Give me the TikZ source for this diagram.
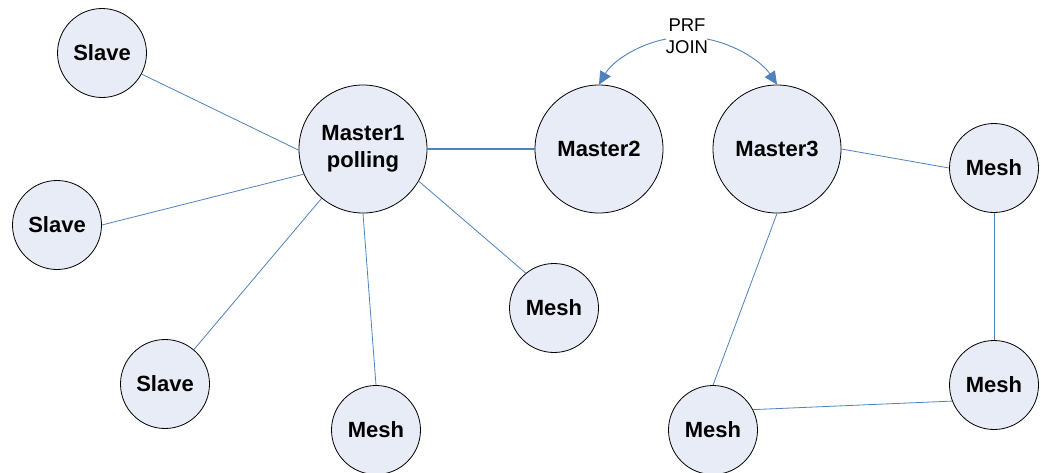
\documentclass[tikz,border=0pt]{standalone}
\usepackage{fontspec}
\setmainfont{Liberation Sans}
\usetikzlibrary{arrows.meta}
\definecolor{nodefill}{RGB}{232,236,247}
\definecolor{linkblue}{RGB}{79,129,189}
\begin{document}
\begin{tikzpicture}[x=1pt,y=-1pt,
  station/.style={circle,draw=black,line width=0.8pt,fill=nodefill,inner sep=0pt,
    align=center,font=\bfseries\fontsize{22}{27}\selectfont},
  small/.style={station,minimum size=89pt},
  big/.style={station,minimum size=128pt},
  link/.style={draw=linkblue,line width=0.8pt},
  trunk/.style={draw=linkblue,line width=2.6pt},
  joinarrow/.style={draw=linkblue,line width=0.9pt,-{Triangle[length=13pt,width=12pt]}}]
\useasboundingbox (0,0) rectangle (1041,472);

% nodes
\node[small] (s1) at (102,53) {Slave};
\node[small] (s2) at (57,225) {Slave};
\node[small] (s3) at (165,384) {Slave};
\node[big]   (m1) at (363,149) {Master1\\polling};
\node[small] (e1) at (554,308) {Mesh};
\node[small] (e2) at (376,430) {Mesh};
\node[big]   (m2) at (599,149) {Master2};
\node[big]   (m3) at (777,149) {Master3};
\node[small] (e3) at (994,168) {Mesh};
\node[small] (e4) at (994,385) {Mesh};
\node[small] (e5) at (713,430) {Mesh};

% PRF join label
\node[font=\fontsize{18.5}{22}\selectfont,align=center,inner sep=0pt] (prf) at (687,36) {PRF\\JOIN};
\coordinate (jl) at (666,39);
\coordinate (jr) at (707,39);

% links
\draw[link] (s1.-28) -- (m1.181);
\draw[link] (s2.east) -- (m1.203);
\draw[link] (s3.50) -- (m1.230);
\draw[link] (m1.-30) -- (e1.129);
\draw[link] (m1.south) -- (e2.north);
\draw[trunk] (m1.east) -- (m2.west);
\draw[link] (m3.east) -- (e3.west);
\draw[link] (e3.south) -- (e4.north);
\draw[link] (e4.201) -- (e5.27);
\draw[link] (m3.south) -- (e5.north);

% join arrows
\draw[joinarrow] (jl) .. controls (636,45) and (612,62) .. (m2.north);
\draw[joinarrow] (jr) .. controls (737,45) and (762,62) .. (m3.north);
\end{tikzpicture}
\end{document}
